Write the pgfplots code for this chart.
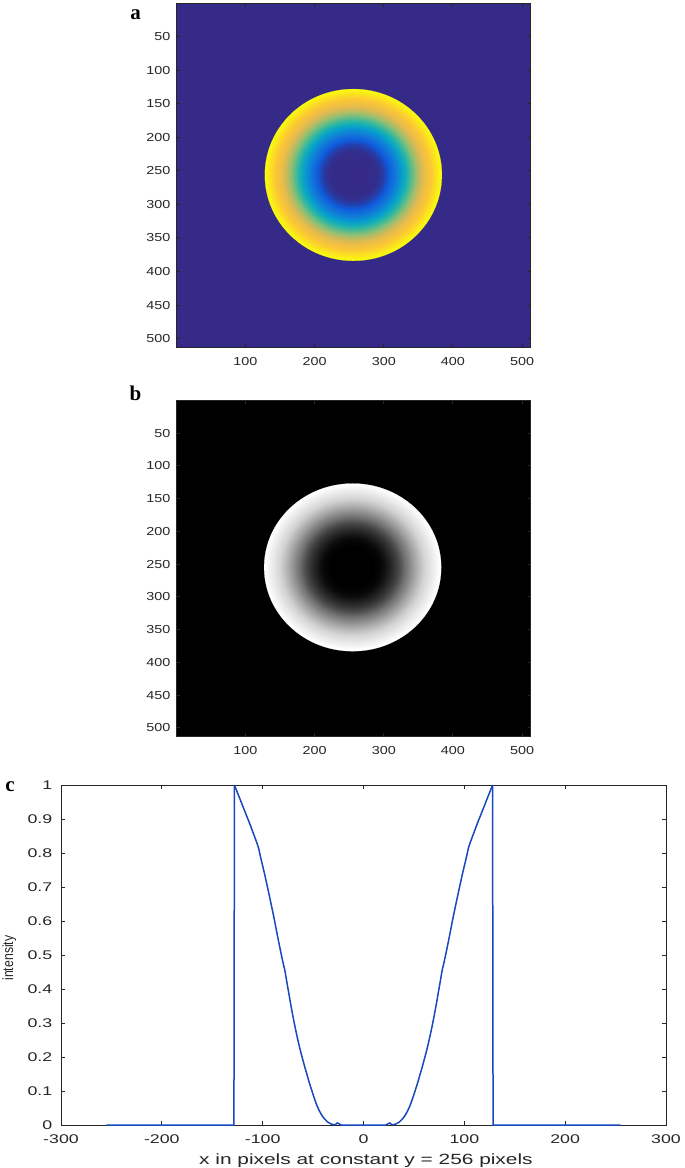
\documentclass[border=0pt]{standalone}
\usepackage{fontspec}
\setmainfont{Liberation Sans}
\newfontfamily\imgfont[FakeStretch=1.24]{Liberation Sans}
\newfontfamily\plotfont[FakeStretch=1.41]{Liberation Sans}
\newfontfamily\ylabfont[FakeStretch=0.83]{Liberation Sans}
\newfontfamily\panelfont{Liberation Serif}
\usepackage{pgfplots}
\usepackage{pgfplotstable}
\pgfplotsset{compat=1.18}

\definecolor{axgray}{rgb}{0.15,0.15,0.15}
\definecolor{parulazero}{rgb}{0.2081,0.1663,0.5292}
\definecolor{lineblue}{RGB}{24,72,190}

% radial intensity profile (r in pixels)
\pgfplotstableread{
r I
128 1.000
126 0.985
124 0.970
122 0.955
120 0.940
118 0.925
116 0.910
114 0.895
112 0.880
110 0.864
108 0.848
106 0.832
104 0.814
102 0.787
100 0.762
98 0.737
96 0.710
94 0.683
92 0.655
90 0.627
88 0.598
86 0.567
84 0.537
82 0.508
80 0.480
78 0.455
76 0.420
74 0.386
72 0.352
70 0.320
68 0.290
66 0.262
64 0.236
62 0.212
60 0.190
58 0.168
56 0.148
54 0.127
52 0.108
50 0.090
48 0.072
46 0.056
44 0.043
42 0.032
40 0.023
38 0.016
36 0.010
34 0.006
32 0.003
30 0.001
28 0.001
26 0.006
24 0.003
22 0.000
0 0.000
}\profile

\pgfplotsset{
  colormap={parula}{rgb=(0.2081,0.1663,0.5292) rgb=(0.0591,0.3598,0.8683)
    rgb=(0.0723,0.4887,0.8467) rgb=(0.0265,0.6137,0.8135) rgb=(0.0843,0.6928,0.7062)
    rgb=(0.3482,0.7424,0.5473) rgb=(0.6473,0.7456,0.4188) rgb=(0.8824,0.7274,0.3217)
    rgb=(0.9900,0.7800,0.2100) rgb=(0.9763,0.9831,0.0538)},
  imgaxis/.style={
    anchor=north west, scale only axis, width=177pt,
    xmin=0.5, xmax=512.5, ymin=0.5, ymax=512.5, y dir=reverse,
    xtick={100,200,300,400,500}, ytick={50,100,150,200,250,300,350,400,450,500},
    tick align=inside, tick pos=both, major tick length=1.5pt,
    axis line style={draw=axgray, line width=0.5pt},
    tick style={draw=axgray, line width=0.5pt},
    /pgf/number format/assume math mode=true,
    ticklabel style={font=\imgfont\fontsize{5.8}{6}\selectfont, text=axgray},
    xticklabel style={inner sep=0pt, yshift=-5pt},
    yticklabel style={inner sep=0pt, xshift=-3pt},
    point meta min=0, point meta max=1,
  },
  disk/.style={scatter, only marks, mark=*, point meta=explicit,
    scatter/use mapped color={draw=mapped color, fill=mapped color},
    visualization depends on={\thisrow{r} \as \rr},
    scatter/@pre marker code/.append style={/tikz/mark size=\rr*0.3457pt}},
}

\begin{document}
\begin{tikzpicture}
\useasboundingbox (0,0) rectangle (342.5pt,-584pt);

% panel a
\begin{axis}[imgaxis, at={(88.35pt,-1.75pt)}, height=171.75pt,
  colormap name=parula, axis background/.style={fill=parulazero}]
\addplot[disk, mark options={yscale=0.970, line width=0.1pt}]
  table[x expr=256, y expr=256, meta=I] \profile;
\end{axis}

% panel b
\begin{axis}[imgaxis, at={(88.35pt,-200.35pt)}, height=167.65pt,
  colormap/blackwhite, axis background/.style={fill=black}]
\addplot[disk, mark options={yscale=0.947, line width=0.1pt}]
  table[x expr=255, y expr=255, meta=I] \profile;
\end{axis}

% panel c
\begin{axis}[at={(30.5pt,-392.5pt)}, anchor=north west, scale only axis,
  width=302.5pt, height=170pt, clip=false,
  xmin=-300, xmax=300, ymin=0, ymax=1,
  xtick={-300,-200,-100,0,100,200,300},
  ytick={0,0.1,0.2,0.3,0.4,0.5,0.6,0.7,0.8,0.9,1},
  tick align=inside, tick pos=both, major tick length=2pt,
  axis line style={draw=axgray, line width=0.5pt},
  tick style={draw=axgray, line width=0.5pt},
  /pgf/number format/assume math mode=true,
  ticklabel style={font=\plotfont\fontsize{6.3}{7}\selectfont, text=axgray},
  xticklabel style={inner sep=0pt, yshift=-4.65pt},
  yticklabel style={inner sep=0pt, xshift=-4.2pt},
  xlabel={x in pixels at constant y = 256 pixels},
  ylabel={intensity},
  every axis x label/.style={at={(axis description cs:0.504,-0.1147)}, anchor=base,
    font=\plotfont\fontsize{7.4}{8}\selectfont, text=axgray, inner sep=0pt},
  every axis y label/.style={at={(axis description cs:-0.0855,0.491)}, anchor=center,
    rotate=90, font=\ylabfont\fontsize{7.4}{8}\selectfont, text=axgray, inner sep=0pt},
]
\addplot[lineblue, line width=0.75pt] coordinates {(-255,0) (-128.5,0) (-128,1)};
\addplot[lineblue, line width=0.75pt] table[x expr=-\thisrow{r}, y=I] \profile;
\addplot[lineblue, line width=0.75pt] table[x=r, y=I] \profile;
\addplot[lineblue, line width=0.75pt] coordinates {(128,1) (128.5,0) (255,0)};
\end{axis}

\node[anchor=base west, inner sep=0pt, font=\panelfont\bfseries\fontsize{10.5}{12}\selectfont] at (65pt,-9.65pt) {a};
\node[anchor=base west, inner sep=0pt, font=\panelfont\bfseries\fontsize{10.5}{12}\selectfont] at (64.65pt,-200.35pt) {b};
\node[anchor=base west, inner sep=0pt, font=\panelfont\bfseries\fontsize{10.5}{12}\selectfont] at (2.5pt,-395.8pt) {c};
\end{tikzpicture}
\end{document}
